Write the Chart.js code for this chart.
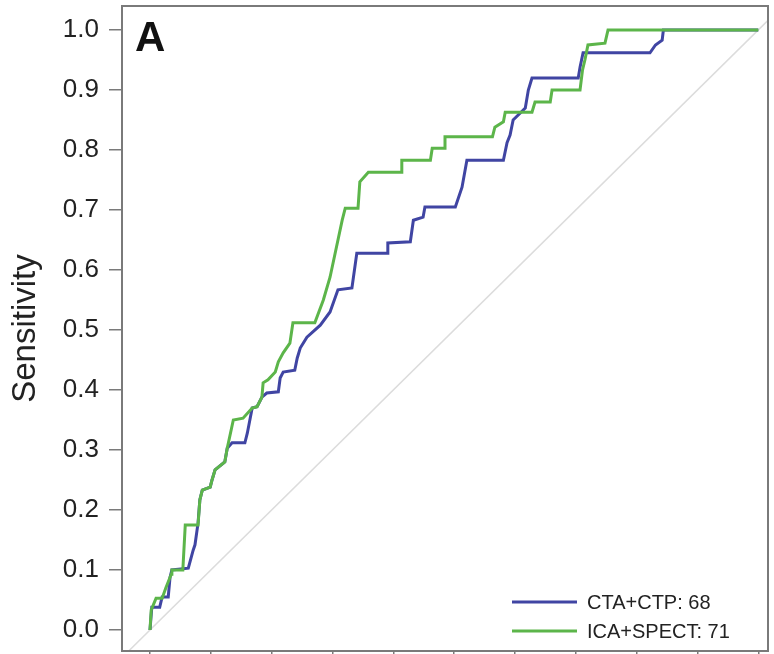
<!DOCTYPE html>
<html>
<head>
<meta charset="utf-8">
<script src="https://cdn.jsdelivr.net/npm/chart.js@4.4.1/dist/chart.umd.min.js"></script>
<style>
html,body{margin:0;padding:0;background:#fff;}
#wrap{width:774px;height:654px;}
</style>
</head>
<body>
<div id="wrap"><canvas id="c" width="774" height="654"></canvas></div>
<script>
// ---- data ----
const panelLabel = "A";
const yAxisTitle = "Sensitivity";
const yTickValues = [0.0,0.1,0.2,0.3,0.4,0.5,0.6,0.7,0.8,0.9,1.0];
const xTickValues = [0.0,0.1,0.2,0.3,0.4,0.5,0.6,0.7,0.8,0.9,1.0]; // 1 - specificity

const seriesNames = ["CTA+CTP: 68", "ICA+SPECT: 71"];

// CTA+CTP curve: false positive rate (1 - specificity) and sensitivity
const ctaCtpFpr  = [0,0.003,0.016,0.020,0.030,0.033,0.036,0.063,0.071,0.074,0.079,0.082,0.086,0.099,0.102,0.107,0.123,0.127,0.135,0.156,0.160,0.168,0.176,0.184,0.192,0.211,0.214,0.219,0.238,0.242,0.247,0.258,0.280,0.296,0.309,0.332,0.340,0.390,0.391,0.428,0.433,0.449,0.452,0.502,0.513,0.521,0.581,0.587,0.592,0.597,0.617,0.622,0.628,0.704,0.707,0.712,0.822,0.831,0.842,0.844,1.0];
const ctaCtpSens = [0,0.038,0.038,0.055,0.055,0.088,0.100,0.103,0.133,0.142,0.178,0.217,0.233,0.238,0.250,0.267,0.280,0.303,0.312,0.312,0.328,0.370,0.372,0.388,0.395,0.397,0.420,0.430,0.433,0.453,0.470,0.488,0.508,0.530,0.567,0.570,0.628,0.628,0.645,0.647,0.683,0.688,0.705,0.705,0.738,0.783,0.783,0.812,0.825,0.850,0.870,0.900,0.920,0.920,0.938,0.962,0.962,0.975,0.983,1.0,1.0];

// ICA+SPECT curve
const icaSpectFpr  = [0,0.002,0.010,0.020,0.026,0.035,0.036,0.054,0.058,0.079,0.082,0.086,0.099,0.102,0.107,0.123,0.127,0.137,0.153,0.168,0.176,0.184,0.186,0.194,0.206,0.211,0.219,0.230,0.235,0.271,0.285,0.296,0.316,0.321,0.342,0.345,0.359,0.414,0.414,0.461,0.464,0.485,0.485,0.563,0.567,0.581,0.584,0.628,0.633,0.658,0.661,0.707,0.711,0.715,0.720,0.748,0.753,1.0];
const icaSpectSens = [0,0.033,0.053,0.053,0.070,0.093,0.100,0.100,0.175,0.175,0.217,0.233,0.238,0.250,0.267,0.280,0.303,0.350,0.353,0.370,0.372,0.388,0.412,0.417,0.430,0.447,0.462,0.478,0.512,0.512,0.550,0.588,0.683,0.703,0.703,0.747,0.763,0.763,0.783,0.783,0.803,0.803,0.822,0.822,0.838,0.847,0.863,0.863,0.880,0.880,0.900,0.900,0.933,0.950,0.975,0.978,1.0,1.0];

const chanceLine = [-0.2, 1.2];

// ---- styles ----
const BLUE = "#4045a3";
const GREEN = "#5cb54a";
const FRAME = "#7a7a7a";
const FONT = "'Liberation Sans', Arial, Helvetica, sans-serif";

function zip(xs, ys){ return xs.map((x,i)=>({x:x, y:ys[i]})); }

const frameAndLegend = {
  id: 'frameAndLegend',
  afterDatasetsDraw(chart){
    const ctx = chart.ctx, a = chart.chartArea;
    ctx.save();
    ctx.strokeStyle = FRAME;
    ctx.lineWidth = 2;
    ctx.strokeRect(a.left, a.top, a.right - a.left, a.bottom - a.top);
    // panel label
    ctx.fillStyle = "#111";
    ctx.font = "bold 42px " + FONT;
    ctx.textAlign = "left";
    ctx.textBaseline = "alphabetic";
    ctx.fillText(panelLabel, a.left + 13, a.top + 45);
    // legend
    const cols = [BLUE, GREEN];
    const rowY = [a.bottom - 49, a.bottom - 20];
    ctx.font = "20px " + FONT;
    ctx.textBaseline = "middle";
    for (let i = 0; i < seriesNames.length; i++){
      ctx.strokeStyle = cols[i];
      ctx.lineWidth = 3;
      ctx.beginPath();
      ctx.moveTo(512, rowY[i]);
      ctx.lineTo(577, rowY[i]);
      ctx.stroke();
      ctx.fillStyle = "#222";
      ctx.fillText(seriesNames[i], 587, rowY[i] + 1);
    }
    ctx.restore();
  }
};

new Chart(document.getElementById('c'), {
  type: 'line',
  data: {
    datasets: [
      { label: seriesNames[1], data: zip(icaSpectFpr, icaSpectSens), borderColor: GREEN, borderWidth: 3, pointRadius: 0, fill: false, tension: 0, order: 0 },
      { label: seriesNames[0], data: zip(ctaCtpFpr, ctaCtpSens), borderColor: BLUE, borderWidth: 3, pointRadius: 0, fill: false, tension: 0, order: 1 },
      { label: 'chance', data: zip(chanceLine, chanceLine), borderColor: "#dcdcdc", borderWidth: 1.5, pointRadius: 0, fill: false, tension: 0, order: 2 }
    ]
  },
  options: {
    responsive: false,
    animation: false,
    events: [],
    layout: { padding: { top: 6, right: 6, bottom: 0, left: 0 } },
    plugins: { legend: { display: false }, tooltip: { enabled: false }, title: { display: false } },
    scales: {
      x: {
        type: 'linear',
        position: 'bottom',
        min: -0.046, max: 1.016,
        afterBuildTicks: s => { s.ticks = xTickValues.map(v => ({value: v})); },
        afterFit: s => { s.height = 3; s.paddingLeft = 0; s.paddingRight = 0; s.paddingTop = 0; s.paddingBottom = 0; },
        ticks: { display: false },
        grid: { drawOnChartArea: false, drawTicks: true, tickLength: 10, color: FRAME, lineWidth: 1.5 },
        border: { display: false }
      },
      y: {
        type: 'linear',
        position: 'left',
        min: -0.035, max: 1.04,
        afterBuildTicks: s => { s.ticks = yTickValues.map(v => ({value: v})); },
        afterFit: s => { s.width = 122; s.paddingTop = 0; s.paddingBottom = 0; },
        ticks: {
          padding: 10,
          color: "#222",
          font: { family: FONT, size: 26 },
          callback: v => Number(v).toFixed(1)
        },
        grid: { drawOnChartArea: false, drawTicks: true, tickLength: 13, color: FRAME, lineWidth: 1.5 },
        border: { display: false },
        title: {
          display: true,
          text: yAxisTitle,
          color: "#222",
          font: { family: FONT, size: 33 },
          padding: { top: 6, bottom: 0 }
        }
      }
    }
  },
  plugins: [frameAndLegend]
});
</script>
</body>
</html>
